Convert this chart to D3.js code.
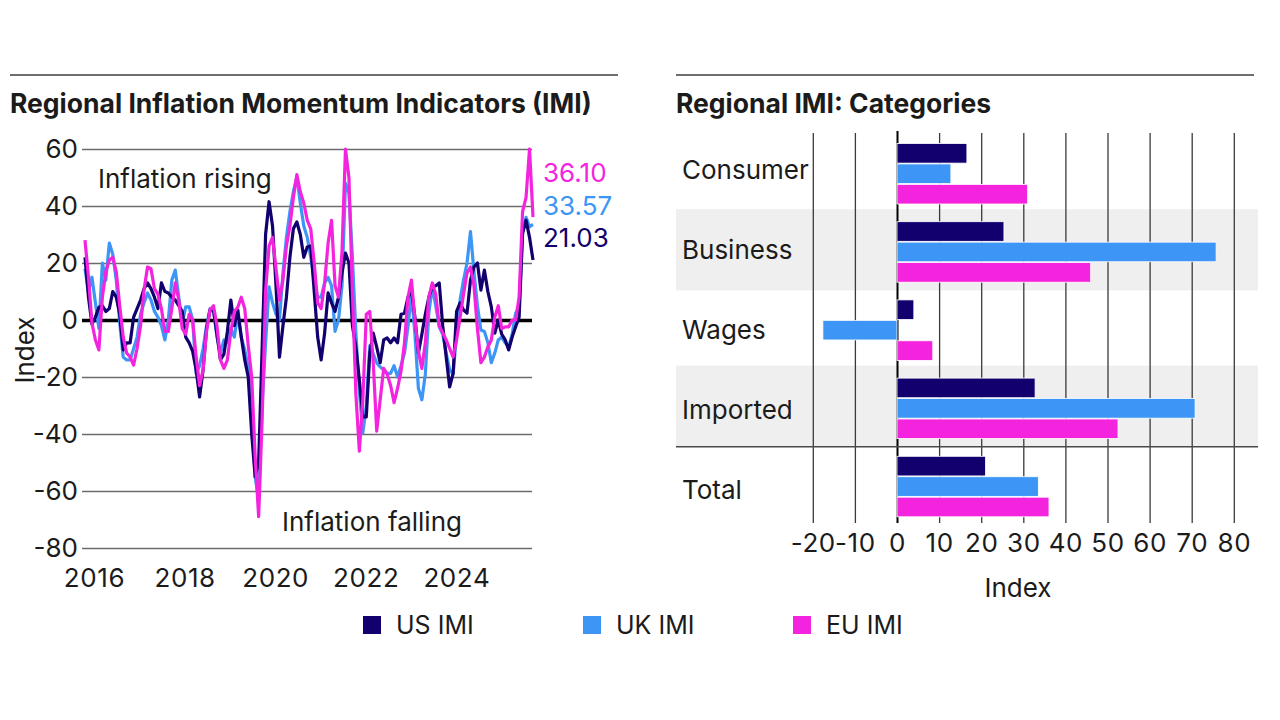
<!DOCTYPE html>
<html>
<head>
<meta charset="utf-8">
<script src="https://cdn.jsdelivr.net/npm/d3@7"></script>
<style>
  body { margin: 0; background: #fff; }
  text { font-family: Inter, "Noto Sans", sans-serif; fill: #1b1b1b; }
</style>
</head>
<body>
<div id="chart"></div>
<script>
// series names + colours
var seriesNames = ["US IMI", "UK IMI", "EU IMI"];
var seriesColors = ["#12006E", "#3D96F5", "#F424DE"];

// IMI readings every 4 weeks, late Oct 2015 .. Aug 2025
var usImi = [22, 8, -1.5, 1, 4.5, 5, 3, 4, 10, 8,
  2, -10.5, -8, -8, 1, 4, 7, 11, 13, 11,
  8, 4, 13, 10, 9.5, 8, 7, 5, 3, -6,
  -8, -11, -17.5, -27, -17.5, -3, 3.5, 3.5, -5, -14,
  -12, -4, 7, -2, 3.5, -6, -14, -20, -40, -55,
  -50, -10, 30, 41.5, 33, 12, -13, -2, 8, 22,
  32, 34.4, 30, 22, 25.6, 26, 10, -6, -14, -4.6,
  9.5, 6, 3, 8, 16.5, 23.5, 20, -2, -9.5, -21,
  -34, -34, -11.6, -4.6, -9.5, -15, -7, -6.3, -8, -6.3,
  -8, 2, 2.4, 8, 10.5, 1, -11.6, -5, 2, 8,
  11.6, 12, 13, -2, -13, -23.5, -18.7, 3, 6, 3.5,
  2.4, 14, 18.6, 20, 10.5, 17.5, 10, 4.6, -4.6, 0,
  -5, -7, -10.5, -6, -2.4, 1, 30.5, 35, 29, 21.03];

var ukImi = [18, 10, 15, 6, -3, 20, 14, 27, 23, 14,
  -1, -13, -14, -14, -10, -6, 2, 6, 9.5, 7,
  3, 1, -2, -7, 0, 14, 17.5, 8, -1, 4.6,
  4.6, 0, -18.7, -16, -10, -2, 4, 3.5, -6, -11.6,
  -7, -8, -3, -6, 2, -6, -10.5, -16.5, -32, -55,
  -63, -30, -8, 11.6, 6, 2, 0, 16.5, 29, 38,
  45, 50, 41, 33, 29, 22, 14, 8, 8, 13,
  15, 12, -4, 0, 12, 48, 44.6, 22, -4.6, -25,
  -39.6, -30, -9, -12, -15, -16.5, -17.5, -18.7, -18.7, -16,
  -20, -16, -11.6, -2.4, 9.5, -5, -24, -28, -19, 2.4,
  11.6, 5, -2.4, -5, -11.6, -17.5, -19, -5, 7, 14,
  20, 31, 17, 5, -3.5, -4, -8, -15, -11.6, -7,
  -6, -8, -9.5, -5, 2.4, 4.6, 30.5, 36, 32.7, 33.57];

var euImi = [28, 15, -1, -7, -10.5, 8, 17, 21, 22, 17,
  5, -6, -11.6, -13, -15.8, -10, -2, 10.5, 18.6, 18,
  11, 9, 4, -4, -4, 4, 13, 7, -3, -5,
  2, 0, -13, -23, -17.5, -4, 3.5, 5, -2, -14,
  -17, -14, -4, 3, 4.5, 8, 4, -9, -20, -48,
  -69, -35, 10, 26, 29, 18, 7, 14, 26, 33,
  43, 51, 45, 41, 35, 32, 20, 6, 4, 13,
  27, 35, 12, 8, 24, 60, 50, 10, -26, -46,
  -28, 2, 3, -15, -39, -28, -17, -19, -23, -29,
  -24, -18, -8, 8, 14, 0, -11, -17, -8, 8,
  13, 9, -2, -4.5, -7, -10, -13, -7, 1, 9,
  16.5, 18.6, 12, -3, -15, -13, -9.5, -7, 1, 5,
  -3, -2.4, -2.4, 0, 0, 8, 38, 43, 60, 36.1];

var lastLabels = ["21.03", "33.57", "36.10"];
var yearTicks = [2016, 2018, 2020, 2022, 2024];
var yTicks = [-80, -60, -40, -20, 0, 20, 40, 60];

// category panel
var categories = ["Consumer", "Business", "Wages", "Imported", "Total"];
var usCat = [16.6, 25.4, 4, 32.8, 21.03];
var ukCat = [12.8, 75.8, -17.6, 70.8, 33.57];
var euCat = [31, 46, 8.5, 52.5, 36.10];
var barTicks = [-20, -10, 0, 10, 20, 30, 40, 50, 60, 70, 80];

var startDate = new Date(2015, 9, 21);
var dates = usImi.map((d, i) => d3.timeDay.offset(startDate, 28 * i));

var svg = d3.select("#chart").append("svg")
    .attr("width", 1280)
    .attr("height", 720);

var plain = d => String(d);

// ---------- left panel ----------
svg.append("line")
    .attr("x1", 10).attr("x2", 618).attr("y1", 75).attr("y2", 75)
    .attr("stroke", "#6e6e6e").attr("stroke-width", 2);

svg.append("text")
    .attr("x", 10).attr("y", 113)
    .style("font-size", "26.5px").style("font-weight", 700)
    .text("Regional Inflation Momentum Indicators (IMI)");

var xTime = d3.scaleTime()
    .domain(d3.extent(dates))
    .range([85, 533]);

var yLin = d3.scaleLinear()
    .domain([-80, 60])
    .range([548, 149]);

var yAxis = svg.append("g")
    .attr("transform", "translate(82,0)")
    .call(d3.axisLeft(yLin).tickValues(yTicks).tickFormat(plain).tickSize(-450).tickPadding(4));
yAxis.select(".domain").remove();
yAxis.selectAll("line").attr("stroke", "#6b6b6b").attr("stroke-width", 1.3);
yAxis.selectAll("text").style("font-size", "26px").style("font-family", "Inter, sans-serif").attr("fill", "#1b1b1b");
yAxis.selectAll(".tick").filter(d => d === 0).select("line")
    .attr("stroke", "#000").attr("stroke-width", 3.5);

var xAxis = svg.append("g")
    .attr("transform", "translate(0,548)")
    .call(d3.axisBottom(xTime)
        .tickValues(yearTicks.map(y => new Date(y, 0, 1)))
        .tickFormat(d3.timeFormat("%Y"))
        .tickSize(0).tickPadding(21));
xAxis.select(".domain").remove();
xAxis.selectAll("text").style("font-size", "26px").style("letter-spacing", "0.6px")
    .style("font-family", "Inter, sans-serif").attr("fill", "#1b1b1b");

svg.append("text")
    .attr("transform", "translate(24,350) rotate(-90)")
    .attr("text-anchor", "middle")
    .attr("dominant-baseline", "central")
    .style("font-size", "26px")
    .text("Index");

var drawLine = d3.line()
    .x((d, i) => xTime(dates[i]))
    .y(d => yLin(d));

var allSeries = [usImi, ukImi, euImi];
[1, 0, 2].forEach(function(k) {
    svg.append("path")
        .datum(allSeries[k])
        .attr("d", drawLine)
        .attr("fill", "none")
        .attr("stroke", seriesColors[k])
        .attr("stroke-width", 3.2)
        .attr("stroke-linejoin", "round");
});

svg.append("text")
    .attr("x", 98).attr("y", 178)
    .attr("dominant-baseline", "central")
    .style("font-size", "26px")
    .text("Inflation rising");

svg.append("text")
    .attr("x", 282).attr("y", 521)
    .attr("dominant-baseline", "central")
    .style("font-size", "26px")
    .text("Inflation falling");

// end labels, stacked top-down EU, UK, US
var endY = [237, 205, 172];
[2, 1, 0].forEach(function(k) {
    svg.append("text")
        .attr("x", 543).attr("y", endY[k])
        .attr("dominant-baseline", "central")
        .style("font-size", "26px")
        .style("fill", seriesColors[k])
        .text(lastLabels[k]);
});

// ---------- right panel ----------
svg.append("line")
    .attr("x1", 676).attr("x2", 1254).attr("y1", 75).attr("y2", 75)
    .attr("stroke", "#6e6e6e").attr("stroke-width", 2);

svg.append("text")
    .attr("x", 676).attr("y", 113)
    .style("font-size", "26.5px").style("font-weight", 700)
    .text("Regional IMI: Categories");

var xBar = d3.scaleLinear()
    .domain([-20, 80])
    .range([812.8, 1233.8]);

var yCat = d3.scaleBand()
    .domain(categories)
    .range([134, 525]);

// label rows sit on a slightly wider pitch than the bars
var yLab = d3.scaleBand()
    .domain(categories)
    .range([130, 530]);

var ySer = d3.scaleBand()
    .domain(seriesNames)
    .range([9.5, 70])
    .paddingInner(0.04);

// shaded rows
svg.selectAll("rect.shade")
    .data(["Business", "Imported"])
    .enter().append("rect")
    .attr("class", "shade")
    .attr("x", 676).attr("width", 582)
    .attr("y", d => yCat(d) - 3)
    .attr("height", yCat.bandwidth() + 3)
    .attr("fill", "#efefef");

var barAxis = svg.append("g")
    .attr("transform", "translate(0,523)")
    .call(d3.axisBottom(xBar).tickValues(barTicks).tickFormat(plain).tickSize(-390).tickPadding(11));
barAxis.select(".domain").remove();
barAxis.selectAll("line").attr("stroke", "#3a3a3a").attr("stroke-width", 1.3);
barAxis.selectAll(".tick").filter(d => d === 0).select("line")
    .attr("stroke", "#000").attr("stroke-width", 2).attr("y2", -392);
barAxis.selectAll("text").style("font-size", "26px").style("letter-spacing", "0.6px")
    .style("font-family", "Inter, sans-serif").attr("fill", "#1b1b1b");

svg.append("line")
    .attr("x1", 676).attr("x2", 1258)
    .attr("y1", yCat("Total")).attr("y2", yCat("Total"))
    .attr("stroke", "#4a4a4a").attr("stroke-width", 1.5);

var catSeries = [usCat, ukCat, euCat];
catSeries.forEach(function(vals, k) {
    svg.append("g").selectAll("rect")
        .data(vals)
        .enter().append("rect")
        .attr("x", d => xBar(Math.min(0, d)))
        .attr("width", d => Math.abs(xBar(d) - xBar(0)))
        .attr("y", (d, i) => yCat(categories[i]) + ySer(seriesNames[k]))
        .attr("height", ySer.bandwidth())
        .attr("fill", seriesColors[k])
        .attr("stroke", "#fff")
        .attr("stroke-width", 0.8);
});

svg.selectAll("text.cat")
    .data(categories)
    .enter().append("text")
    .attr("class", "cat")
    .attr("x", 682)
    .attr("y", d => yLab(d) + yLab.bandwidth() / 2 - 1)
    .attr("dominant-baseline", "central")
    .style("font-size", "26px")
    .text(d => d);

svg.append("text")
    .attr("x", 1018).attr("y", 587)
    .attr("text-anchor", "middle")
    .attr("dominant-baseline", "central")
    .style("font-size", "26px")
    .text("Index");

// ---------- legend ----------
var legendX = [363, 583, 793];
seriesNames.forEach(function(name, k) {
    svg.append("rect")
        .attr("x", legendX[k]).attr("y", 616)
        .attr("width", 18).attr("height", 18)
        .attr("fill", seriesColors[k]);
    svg.append("text")
        .attr("x", legendX[k] + 33).attr("y", 625)
        .attr("dominant-baseline", "central")
        .style("font-size", "25px")
        .text(name);
});
</script>
</body>
</html>
